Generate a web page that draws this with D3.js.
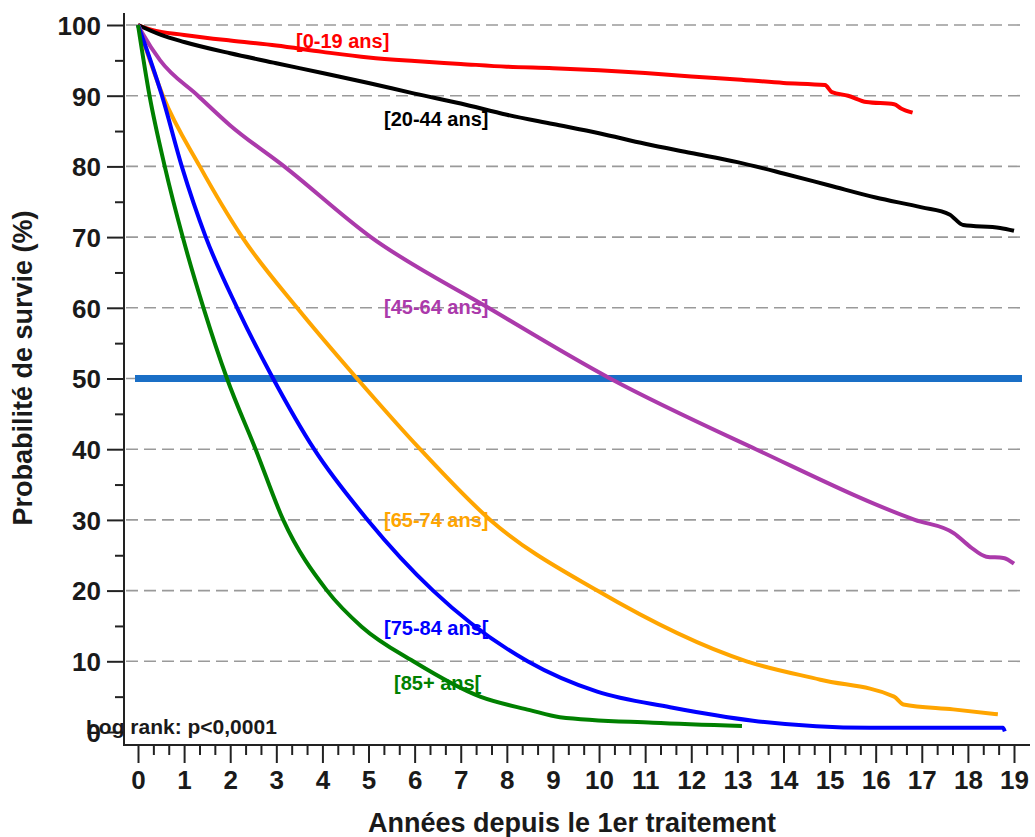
<!DOCTYPE html>
<html>
<head>
<meta charset="utf-8">
<script src="https://cdn.jsdelivr.net/npm/d3@7"></script>
<style>
  body { margin: 0; background: #fff; }
  text { font-family: "Liberation Sans", Arial, sans-serif; }
</style>
</head>
<body>
<div id="app"></div>
<script>
// survival curves, time in years, value in %
var redT   = [0, 0.3, 1, 2, 3, 4, 5, 6, 7, 8, 9, 10, 11, 12, 13, 14, 14.9, 15.05, 15.4, 15.8, 16.4, 16.55, 16.8];
var redV   = [100, 99.3, 98.6, 97.8, 97.1, 96.2, 95.4, 94.9, 94.5, 94.1, 93.9, 93.6, 93.2, 92.7, 92.3, 91.8, 91.5, 90.5, 90, 89.1, 88.8, 88.2, 87.6];
var blackT = [0, 0.5, 1, 2, 3, 4, 5, 6, 7, 8, 9, 10, 11, 12, 13, 14, 15, 16, 17, 17.6, 17.9, 18.7, 19];
var blackV = [100, 98.6, 97.6, 96, 94.6, 93.2, 91.8, 90.3, 88.9, 87.3, 86, 84.7, 83.2, 81.9, 80.6, 79, 77.3, 75.6, 74.2, 73.2, 71.7, 71.3, 70.9];
var purpleT = [0, 0.1, 0.48, 1.3, 2, 3.17, 5.05, 7.6, 10.24, 13.4, 16.85, 17.7, 18.05, 18.4, 18.77, 19];
var purpleV = [100, 98.8, 95, 90, 85.8, 80, 70, 60, 50, 40, 30, 28.1, 26.2, 24.8, 24.6, 23.8];
var orangeT = [0, 0.54, 1.34, 2.26, 3.45, 4.75, 6.12, 7.64, 9.96, 13.2, 14.8, 16.4, 16.6, 17.68, 18.65];
var orangeV = [100, 90, 80, 70, 60, 50, 40, 30, 20, 10, 7.4, 5, 3.9, 3.2, 2.5];
var blueT  = [0, 0.52, 0.95, 1.47, 2.15, 2.93, 3.82, 4.98, 6.4, 8.45, 9.96, 11.54, 13.34, 15.88, 18.76, 18.8];
var blueV  = [100, 90, 80, 70, 60, 50, 40, 30, 20, 10, 5.7, 3.5, 1.6, 0.6, 0.6, 0.1];
var greenT = [0, 0.25, 0.58, 0.97, 1.42, 1.93, 2.55, 3.15, 4.1, 4.85, 5.97, 7.42, 8.5, 9.15, 11.17, 13.1];
var greenV = [100, 90, 80, 70, 60, 50, 40, 30, 20, 14.9, 10, 5, 3.1, 2.1, 1.3, 0.85];

var seriesNames  = ["[0-19 ans]", "[20-44 ans]", "[45-64 ans]", "[65-74 ans]", "[75-84 ans[", "[85+ ans["];
var seriesColors = ["#ff0000", "#000000", "#ab3aab", "#ffa500", "#0000ff", "#008000"];
var seriesT = [redT, blackT, purpleT, orangeT, blueT, greenT];
var seriesV = [redV, blackV, purpleV, orangeV, blueV, greenV];

var xTicks = d3.range(0, 20);          // 0..19
var yTicks = d3.range(0, 101, 10);     // 0..100
var medianLine = 50;

var svgWidth = 1035, svgHeight = 837;

var svg = d3.select("#app")
            .append("svg")
            .attr("width", svgWidth)
            .attr("height", svgHeight);

var x = d3.scaleLinear().domain([0, 19]).range([138, 1014]);
var y = d3.scaleLinear().domain([0, 100]).range([732, 25]);

var axisX = 124, axisY = 745;

// grid lines (dashed)
svg.append("g").selectAll("line")
    .data(yTicks.filter(function(d){ return d > 0; }))
    .enter().append("line")
    .attr("x1", axisX + 2).attr("x2", 1022)
    .attr("y1", function(d){ return y(d); })
    .attr("y2", function(d){ return y(d); })
    .attr("stroke", "#9a9a9a")
    .attr("stroke-width", 1.6)
    .attr("stroke-dasharray", "12,6");

// curve labels
var labelPos = [[296, 48], [384, 126], [384, 314], [384, 527], [384, 635], [394, 690]];
svg.append("g").selectAll("text")
    .data(seriesNames)
    .enter().append("text")
    .attr("x", function(d, i){ return labelPos[i][0]; })
    .attr("y", function(d, i){ return labelPos[i][1]; })
    .attr("fill", function(d, i){ return seriesColors[i]; })
    .style("font-size", "20px")
    .style("font-weight", "bold")
    .text(function(d){ return d; });

// 50% line
svg.append("line")
    .attr("x1", x(0) - 3).attr("x2", 1022)
    .attr("y1", y(medianLine)).attr("y2", y(medianLine))
    .attr("stroke", "#1a6fc6")
    .attr("stroke-width", 7);

// curves
var line = d3.line()
    .x(function(d){ return x(d[0]); })
    .y(function(d){ return y(d[1]); })
    .curve(d3.curveMonotoneX);

svg.append("g").selectAll("path")
    .data(seriesT.map(function(t, i){ return t.map(function(v, j){ return [v, seriesV[i][j]]; }); }))
    .enter().append("path")
    .attr("d", line)
    .attr("fill", "none")
    .attr("stroke", function(d, i){ return seriesColors[i]; })
    .attr("stroke-width", 4)
    .attr("stroke-linejoin", "round");

// Y axis
var yAxisG = svg.append("g").attr("transform", "translate(" + axisX + ",0)");
yAxisG.call(d3.axisLeft(y).tickValues(yTicks).tickSize(17).tickPadding(6).tickSizeOuter(0));
yAxisG.append("g").call(d3.axisLeft(y).tickValues(d3.range(5, 100, 10)).tickSize(9).tickFormat(""));
yAxisG.selectAll(".domain").remove();
yAxisG.selectAll("line").attr("stroke", "#222").attr("stroke-width", 2);
yAxisG.selectAll("text")
    .style("font-size", "26px")
    .style("font-weight", "bold")
    .attr("fill", "#1a1a1a")
    .attr("dy", "0.36em");
yAxisG.append("line")
    .attr("x1", 0).attr("x2", 0).attr("y1", 13).attr("y2", axisY + 1)
    .attr("stroke", "#222").attr("stroke-width", 2);

// X axis
var xAxisG = svg.append("g").attr("transform", "translate(0," + axisY + ")");
xAxisG.call(d3.axisBottom(x).tickValues(xTicks).tickSize(18).tickPadding(8).tickFormat(d3.format("d")));
xAxisG.append("g").call(d3.axisBottom(x).tickValues(d3.range(0, 57).filter(function(i){ return i % 3; }).map(function(i){ return i / 3; })).tickSize(10).tickFormat(""));
xAxisG.selectAll(".domain").remove();
xAxisG.selectAll("line").attr("stroke", "#222").attr("stroke-width", 2);
xAxisG.selectAll("text")
    .style("font-size", "26px")
    .style("font-weight", "bold")
    .attr("fill", "#1a1a1a");
xAxisG.append("line")
    .attr("x1", axisX - 1).attr("x2", 1030).attr("y1", 0).attr("y2", 0)
    .attr("stroke", "#222").attr("stroke-width", 2);

// titles
svg.append("text")
    .attr("x", 572).attr("y", 832)
    .attr("text-anchor", "middle")
    .style("font-size", "27px").style("font-weight", "bold")
    .attr("fill", "#1a1a1a")
    .text("Années depuis le 1er traitement");

svg.append("text")
    .attr("transform", "translate(32,368) rotate(-90)")
    .attr("text-anchor", "middle")
    .style("font-size", "27px").style("font-weight", "bold")
    .attr("fill", "#1a1a1a")
    .text("Probabilité de survie (%)");

// sits over the "0" tick label, as in the original
svg.append("text")
    .attr("x", 86).attr("y", 734)
    .style("font-size", "21px").style("font-weight", "bold")
    .attr("fill", "#1a1a1a")
    .text("Log rank: p<0,0001");
</script>
</body>
</html>
